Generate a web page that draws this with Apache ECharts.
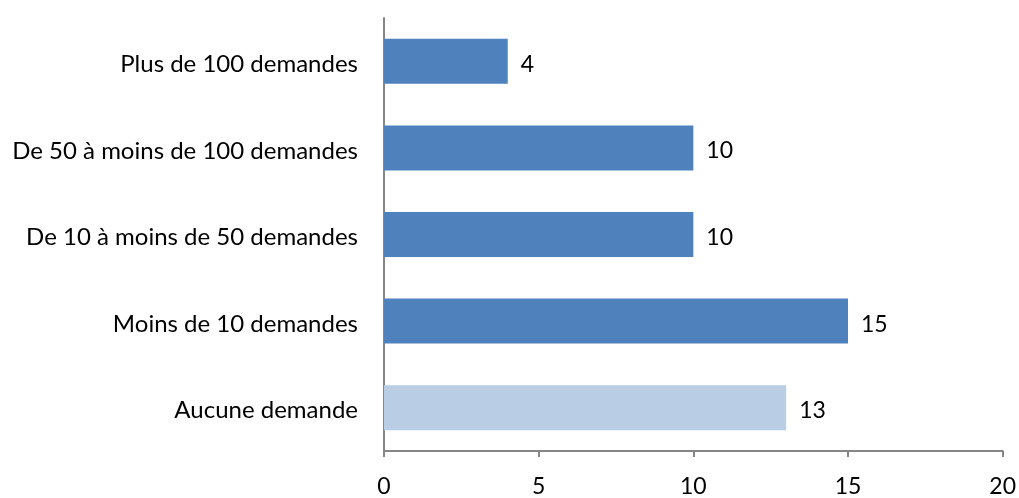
<!DOCTYPE html>
<html><head><meta charset="utf-8">
<script src="https://cdn.jsdelivr.net/npm/echarts@6/dist/echarts.min.js"></script>
<style>html,body{margin:0;padding:0;background:#fff}#c{width:1019px;height:498px}</style>
</head><body><div id="c"></div>
<script>
var categories = ['Aucune demande','Moins de 10 demandes','De 10 à moins de 50 demandes','De 50 à moins de 100 demandes','Plus de 100 demandes'];
var values = [13, 15, 10, 10, 4];
var barColors = ['#B9CDE5', '#4F81BD', '#4F81BD', '#4F81BD', '#4F81BD'];
var xTicks = [0, 5, 10, 15, 20];

var chart = echarts.init(document.getElementById('c'));
var font = 'Lato, "Open Sans", sans-serif';
chart.setOption({
  animation: false,
  grid: {left: 384, right: 14, top: 18, bottom: 46, containLabel: false},
  xAxis: {
    type: 'value', min: xTicks[0], max: xTicks[xTicks.length-1], interval: 5,
    axisLine: {show: true, lineStyle: {color: '#868686', width: 2}},
    axisTick: {show: true, length: 6, lineStyle: {color: '#868686', width: 2}},
    axisLabel: {color: '#000', fontSize: 23, fontFamily: font, margin: 24},
    splitLine: {show: false}
  },
  yAxis: {
    type: 'category', data: categories,
    axisLine: {show: true, lineStyle: {color: '#868686', width: 2}},
    axisTick: {show: false},
    axisLabel: {color: '#000', fontSize: 24, fontFamily: font, margin: 26,
      formatter: function(v){ return '{a|' + v + '}'; },
      rich: {a: {fontSize: 24, fontFamily: font, color: '#000', padding: [6, 0, 0, 0]}}}
  },
  series: [{
    type: 'bar',
    data: values.map(function(v, i){ return {value: v, itemStyle: {color: barColors[i]}}; }),
    barCategoryGap: '48%',
    label: {show: true, position: 'right', distance: 13, offset: [0, 3], color: '#000', fontSize: 23, fontFamily: font}
  }]
});
</script></body></html>
